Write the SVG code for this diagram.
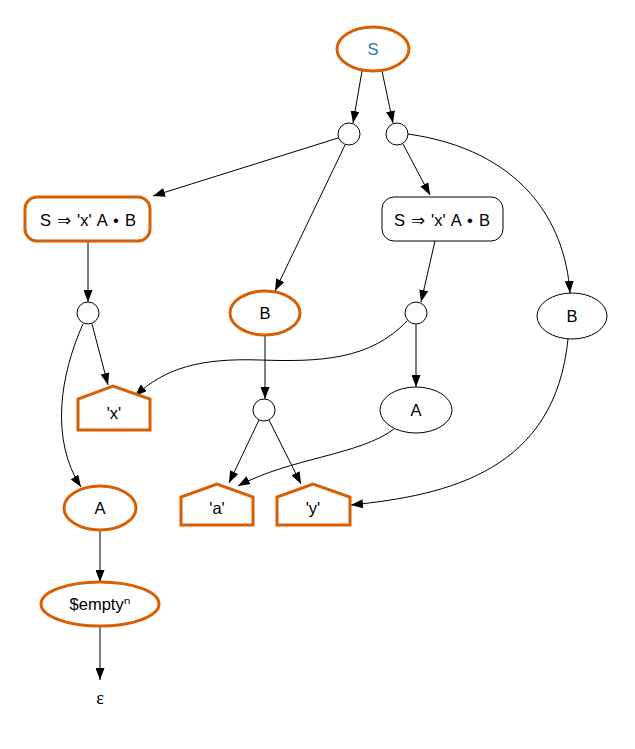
<svg xmlns="http://www.w3.org/2000/svg" width="635" height="749" viewBox="0 0 635 749">
<style>
.hl{fill:#fff;stroke:#d95f02;stroke-width:3}
.pl{fill:#fff;stroke:#000;stroke-width:1}
.e{fill:none;stroke:#000;stroke-width:1}
text{font-family:"Liberation Sans",Arial,sans-serif;font-size:16.5px;text-anchor:middle;dominant-baseline:central;fill:#000}
.it{word-spacing:1.5px}
.dj{font-family:"DejaVu Sans",sans-serif}
</style>
<defs>
<marker id="ar" viewBox="0 0 12 9" refX="12" refY="4.5" markerWidth="12" markerHeight="9" markerUnits="userSpaceOnUse" orient="auto">
<path d="M0,0 L12,4.5 L0,9 z" fill="#000"/>
</marker>
</defs>
<rect width="635" height="749" fill="#fff"/>
<g id="edges">
<path class="e" marker-end="url(#ar)" d="M362,71 L353,123"/>
<path class="e" marker-end="url(#ar)" d="M382,71 L393,123"/>
<path class="e" marker-end="url(#ar)" d="M338,138 L153,196"/>
<path class="e" marker-end="url(#ar)" d="M345,145 L275,291"/>
<path class="e" marker-end="url(#ar)" d="M403,144 L430,195"/>
<path class="e" marker-end="url(#ar)" d="M408,134 C520,150 565,220 570,293"/>
<path class="e" marker-end="url(#ar)" d="M88,241 L88,302"/>
<path class="e" marker-end="url(#ar)" d="M92,324 L108,385"/>
<path class="e" marker-end="url(#ar)" d="M83,324 C60,375 50,440 81,487"/>
<path class="e" marker-end="url(#ar)" d="M265,335 L265,399"/>
<path class="e" marker-end="url(#ar)" d="M435,241 L421,302"/>
<path class="e" marker-end="url(#ar)" d="M407,321 C370,360 320,362 260,360 C200,358 165,368 135,396"/>
<path class="e" marker-end="url(#ar)" d="M416,324 L416,387"/>
<path class="e" marker-end="url(#ar)" d="M259,420 L229,483"/>
<path class="e" marker-end="url(#ar)" d="M269,420 L301,484"/>
<path class="e" marker-end="url(#ar)" d="M394,429 C360,455 290,458 238,486"/>
<path class="e" marker-end="url(#ar)" d="M568,339 C555,470 450,495 351,505"/>
<path class="e" marker-end="url(#ar)" d="M100,530 L100,582"/>
<path class="e" marker-end="url(#ar)" d="M100,626 L100,680"/>
</g>
<g id="n_S"><ellipse class="hl" cx="373" cy="49" rx="36" ry="22"/><text x="373" y="49" style="fill:#1f78b4">S</text></g>
<g id="n_c1"><circle class="pl" cx="349" cy="134" r="11"/></g>
<g id="n_c2"><circle class="pl" cx="397" cy="134" r="11"/></g>
<g id="n_item1"><rect class="hl" x="25" y="197" width="125" height="44" rx="12"/><text class="it" x="88" y="220">S <tspan class="dj">⇒</tspan> 'x' A • B</text></g>
<g id="n_item2"><rect class="pl" x="382" y="197" width="121" height="44" rx="12"/><text class="it" x="442" y="220">S <tspan class="dj">⇒</tspan> 'x' A • B</text></g>
<g id="n_c3"><circle class="pl" cx="88" cy="313" r="11"/></g>
<g id="n_B1"><ellipse class="hl" cx="265" cy="313" rx="35" ry="22"/><text x="265" y="313">B</text></g>
<g id="n_c4"><circle class="pl" cx="416" cy="313" r="11"/></g>
<g id="n_B2"><ellipse class="pl" cx="572" cy="316" rx="35" ry="23"/><text x="572" y="316">B</text></g>
<g id="n_x"><path class="hl" d="M78,430 L78,399 L113,386 L150,399 L150,430 Z"/><text x="114" y="413">'x'</text></g>
<g id="n_c5"><circle class="pl" cx="264" cy="410" r="11"/></g>
<g id="n_A2"><ellipse class="pl" cx="416" cy="410" rx="36" ry="23"/><text x="416" y="410">A</text></g>
<g id="n_A1"><ellipse class="hl" cx="100" cy="508" rx="36" ry="22"/><text x="100" y="508">A</text></g>
<g id="n_a"><path class="hl" d="M181,525 L181,497 L217,484 L253,497 L253,525 Z"/><text x="217" y="508">'a'</text></g>
<g id="n_y"><path class="hl" d="M277,525 L277,497 L313,484 L350,497 L350,525 Z"/><text x="313" y="508">'y'</text></g>
<g id="n_empty"><ellipse class="hl" cx="100" cy="604" rx="59" ry="22"/><text x="100" y="604">$empty<tspan class="dj" style="font-size:17px">ⁿ</tspan></text></g>
<g id="n_eps"><text x="100" y="698" style="font-family:'Liberation Serif',serif;font-size:18px">ε</text></g>
</svg>
